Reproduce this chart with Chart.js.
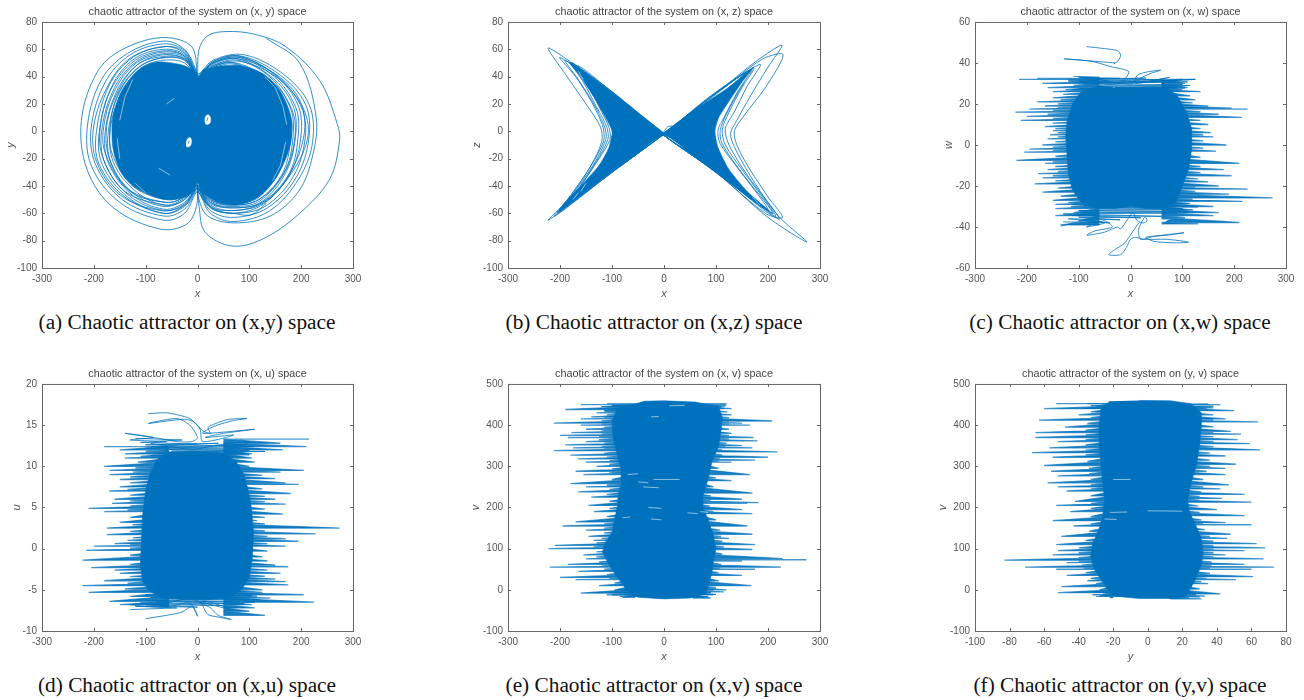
<!DOCTYPE html>
<html>
<head>
<meta charset="utf-8">
<title>Chaotic attractors</title>
<script src="https://cdn.jsdelivr.net/npm/chart.js@4/dist/chart.umd.min.js"></script>
<style>
    html, body { margin: 0; padding: 0; background: #fff; }
    body { position: relative; width: 1304px; height: 700px; overflow: hidden; }
    canvas { position: absolute; }
    .caption {
        position: absolute;
        transform: translateX(-50%);
        white-space: nowrap;
        font: 21.3px "Liberation Serif", serif;
        color: #111;
    }
</style>
</head>
<body>
<script>
// Values. "Core" is the outline of the solid part, "Tip" the ends of
// the spikes sticking out of it, "Traj" the thin trajectory lines that can be followed by eye,
// "Fringe" the back and forth lines along the top and bottom of the solid part,
// "Streak" the pale flecks left inside the solid part.

// (a) x, y
const xyCoreX = [0,-10,-50,-95,-135,-158,-165,-158,-135,-95,-50,-10,0,10,50,95,135,170,182,172,140,95,50,10];
const xyCoreY = [38,45,50,49,36,18,0,-20,-36,-46,-50,-45,-38,-45,-53,-52,-42,-20,0,20,38,47,48,45];
const xyTrajX = [133,197,229,222,195,140,70,20,3,0,
    -2,-14,-72,-149,-194,-224,-213,-162,-72,-21,-2,0,
    3,15,69,130,197,255,274,270,236,170,110,56,20,3,0,
    -3,-25,-65,-135,-185,-212,-205,-150,-65,-25,-3,
    3,25,70,140,195,222,215,165,90,30,3,
    -3,-25,-65,-130,-178,-205,-197,-145,-65,-25,-3,
    3,25,70,135,190,215,208,160,85,30,3,
    -3,-25,-65,-125,-170,-195,-190,-140,-65,-25,-3,
    3,25,70,130,185,208,200,155,85,30,3,
    -3,-25,-65,-122,-165,-190,-183,-135,-65,-25,-3,
    3,25,70,128,180,200,193,150,80,30,3,
    -3,-25,-65,-118,-160,-185,-178,-132,-65,-25,-3,
    3,25,70,125,178,195,188,148,80,30,3,
    -3,-25,-65,-115,-155,-178,-172,-128,-65,-25,-3,
    3,25,70,122,172,190,183,145,78,30,3,
    -3,-25,-65,-112,-150,-172,-167,-125,-65,-25,-3,
    3,25,70,120,170,185,178,142,78,30,3,
    -3,-25,-65,-110,-147,-168,-163,-122,-65,-25,-3,
    3,25,60,120,170,205,198,150,80,30,3,
    -3,-25,-60,-128,-172,-200,-195,-148,-70,-25,-3,
    3,25,65,125,175,212,205,158,85,30,3,
    -3,-25,-60,-120,-168,-188,-182,-140,-60,-25,-3,
    3,25,65,118,168,188,182,145,75,30,3,
    -3,-25,-60,-118,-162,-182,-176,-135,-60,-25,-3,
    3,25,65,115,160,182,176,140,72,30,3,
    -3,-25,-60,-115,-155,-175,-170,-130,-60,-25,-3,
    3,25,65,118,165,180,175,140,70,30,3,
    -3,-25,-60,-110,-150,-168,-165,-125,-60,-25,-3,
    3,30,70,104,133];
const xyTrajY = [68,50,10,-18,-44,-62,-67,-62,-50,-38,
    47,63,68.5,59,43,8,-28,-56,-71.5,-68,-55,-40,
    -55,-74,-84,-78,-60,-35,-7,5,37,62,71,73,70,60,40,
    45,60,66,57,38,5,-25,-52,-65,-60,-45,
    -45,-60,-66,-58,-35,-8,20,42,56,52,42,
    44,59,64,56,36,3,-24,-50,-62,-57,-44,
    -44,-58,-63,-56,-34,-5,20,41,55,51,41,
    42,57,62,54,34,0,-24,-48,-60,-55,-43,
    -43,-56,-60,-55,-33,-4,18,40,54,50,40,
    42,56,60,53,33,-2,-25,-48,-60,-54,-42,
    -43,-55,-60,-53,-30,-2,20,41,55,51,40,
    42,55,58,51,32,0,-24,-47,-58,-53,-42,
    -42,-54,-58,-52,-30,0,19,40,54,50,40,
    41,53,56,49,30,0,-23,-46,-57,-52,-41,
    -42,-53,-56,-52,-29,0,20,39,53,49,40,
    40,52,54,47,29,0,-23,-45,-55,-50,-40,
    -41,-52,-55,-51,-28,0,18,39,52,48,39,
    40,50,52,46,28,2,-22,-43,-54,-49,-40,
    -42,-55,-58,-54,-36,-4,22,42,53,50,40,
    43,58,62,54,34,4,-22,-47,-58,-54,-42,
    -42,-52,-56,-52,-34,-6,16,38,51,48,39,
    42,55,59,52,30,2,-20,-44,-54,-50,-40,
    -41,-51,-54,-50,-30,-4,16,36,50,47,39,
    42,54,57,50,28,0,-18,-42,-52,-48,-40,
    -40,-50,-53,-49,-28,0,14,34,49,46,38,
    41,53,55,49,28,4,-20,-44,-52,-48,-40,
    -40,-50,-54,-50,-30,-2,15,35,50,47,38,
    41,52,54,48,30,6,-16,-40,-50,-47,-39,
    -45,-57,-60,-61,-52.6];
const xyHoleRightX = [14,16,21,25,24,19,15];
const xyHoleRightY = [7,11,12,10,6,5,5.5];
const xyHoleLeftX = [-22,-20,-15,-12,-13,-18,-22];
const xyHoleLeftY = [-9,-6,-4.5,-6,-10,-11.5,-11];
const xyEyeX = [20,18,null,-18,-16];
const xyEyeY = [10,7.5,null,-9,-7];
const xyStreakX = [-150,-140,-125,null,-155,-150,null,-120,-100,null,150,165,172,null,170,160,145,null,130,150,null,-75,-53,null,-60,-45];
const xyStreakY = [8,25,38,null,-5,-20,null,-38,-45,null,32,18,5,null,-8,-25,-36,null,40,32,null,-27,-32,null,20,24];

// (b) x, z
const xzCoreX = [0,60,120,165,172,150,125,105,98,104,125,160,208,190,120,60,0,
    -60,-120,-205,-190,-155,-125,-106,-100,-112,-135,-160,-182,-175,-120,-60];
const xzCoreY = [-1,16,31,45,47,36,22,10,0,-12,-28,-44,-60,-56,-36,-19,-3,
    -19,-35,-60,-52,-38,-25,-12,0,10,25,40,50,50,34,17];
const xzTrajX = [25,8,0,120,180,227,200,165,140,128,140,175,220,275,200,100,0,
    -110,-222,-190,-150,-122,-120,-145,-185,-222,-110,0,
    110,190,229,195,155,135,150,200,228,195,100,0,
    -100,-200,-170,-140,-118,-116,-140,-180,-210,-100,0,
    100,185,160,135,118,125,160,222,190,100,0,
    -100,-190,-165,-135,-114,-112,-135,-175,-200,-100,0,
    90,172,150,125,112,118,150,215,180,90,0,
    -90,-178,-155,-130,-110,-108,-130,-168,-190,-90,0,
    90,168,145,122,108,112,145,210,175,90,0,
    -85,-165,-145,-125,-106,-104,-125,-160,-180,-90,0,
    85,165,140,118,104,108,140,200,170,85,0];
const xzTrajY = [3.5,3.5,-1,34,52,63,47,25,8,-2,-15,-38,-62,-81,-63,-30,-3,
    31,61,42,20,3,-8,-28,-50,-65,-33,-2,
    30,53,56,32,12,-1,-18,-48,-63,-60,-30,-3,
    29,54,40,22,4,-7,-25,-47,-62,-30,-2,
    28,49,33,14,2,-10,-32,-64,-57,-29,-3,
    28,52,38,20,3,-6,-24,-46,-58,-29,-2,
    26,46,32,14,1,-10,-28,-62,-53,-27,-3,
    26,50,36,18,3,-6,-22,-44,-55,-27,-2,
    25,45,30,14,1,-9,-28,-60,-51,-27,-3,
    24,48,34,18,3,-6,-20,-40,-52,-27,-2,
    24,44,28,12,1,-9,-26,-57,-50,-25,-3];
const xzStreakX = [-165,-155,null,-125,-118,null,-105,-100,null,-150,-160,null,-175,-165,null,155,165,null,110,105,null,170,185];
const xzStreakY = [44,38,null,14,8,null,4,-3,null,-38,-44,null,-50,-45,null,35,42,null,8,-2,null,-48,-54];

// (c) x, w
const xwCoreX = [-60,-95,-112,-122,-125,-122,-120,-112,-95,-65,-30,0,30,60,88,100,112,118,118,108,90,70,30,0,-30];
const xwCoreY = [29,26,20,12,4,-6,-14,-22,-28,-31,-31,-30,-31,-31,-28,-20,-12,-2,8,16,24,28,28,28,28];
const xwLeftTipX = [-180,-215,-120,-170,-110,-160,-125,-150,-130,-150,-135,-180,-140,-165,-140,-195,-150,-222,-160,-200,-150,-212,-150,-165,-145,-150,-140,-155,-140,-160,-145,-170,-150,-195,-150,-205,-145,-220,-150,-165,-145,-160,-140,-178,-150,-170,-145,-185,-140,-170,-135,-150,-120,-145,-115,-145,-110,-145,-100,-135];
const xwLeftTipY = [32.5,32,31,30,29,28,27,26,24.7,23,22,21,20,19,18.2,17.5,16.7,16,15,14,13,12,10.7,9,8,7,6,5,4,3,1.5,0,-1,-2,-2.8,-3.5,-5.5,-7.5,-8.2,-9,-10.5,-12,-13,-14,-15,-16,-17.5,-19,-21,-23,-25,-27,-28,-29,-30,-31,-33,-34.5,-37,-39];
const xwRightTipX = [125,105,110,100,135,115,125,120,150,195,226,135,170,215,135,150,135,155,140,160,140,185,140,165,135,210,135,180,135,195,130,150,170,125,226,125,190,274,120,216,115,160,110,170,160,105,210,130,80];
const xwRightTipY = [32,30,28,27,26,24,22,20.5,19,18,17.5,16.2,15,13.5,12,10,8,6,5,4,2,0,-1.5,-3,-6,-9,-10.5,-12,-13.5,-15,-16.5,-18,-20,-20.7,-21.5,-22.7,-24,-25.8,-26.5,-27.5,-28.5,-30,-31.5,-33,-34.5,-35.5,-37.8,-38.5,-36];
const xwTrajX = [-85,-50,-25,-19,-24,-32,-30,-128,-100,-71,-35,-15,-3,-8,-13,-18,-85,-40,-100,-20,5,13,30,58,40,19,10,75,40,100,60,
    null,
    -135,-90,-50,-85,-50,-35,-70,-84,-50,-25,-19,-5,5,13,25,32,28,16,19,45,103,70,30,45,83,112,70,25,10,0,-8,-19,-42,-30,-12,5,16];
const xwTrajY = [48,47,46,43.8,41,39.7,40,42,41.5,40.6,38,37,35.7,33,31.6,30,33,31,31,30,30,34,35.5,36.5,35,32.5,30,33,31,32,30,
    null,
    -39.6,-37,-38,-40,-37,-40,-42,-44,-42.5,-40,-41,-36,-33,-37,-38,-37,-35,-41,-46,-44.6,-42.8,-44,-45,-47,-47.7,-47.4,-46,-46,-45,-46,-50,-53.5,-53.5,-51,-48,-42,-38];
const xwFringeX = [-110,-60,-100,-20,-90,30,-120,60,-80,90,-100,110,-90,125,-60,100,-50,115,-30,90,-100,105,-110,95,
    null,
    -130,-40,-120,-20,-100,20,-110,60,-130,90,-90,110,-100,120,-60,100,-40,130,-90,90,-110,110];
const xwFringeY = [33.5,33,33,32.5,32.3,32.6,31.6,32,31,31.4,30.4,30.8,29.8,32,29.2,29.5,28.6,29,28,28.2,27.4,27.8,27,26.6,
    null,
    -37.5,-38,-36,-36.5,-35.2,-35.5,-34.4,-34.8,-33.6,-33.2,-32.8,-32.6,-32,-31.6,-31.2,-31,-30.4,-30.2,-29.6,-29.4,-28.8,-28.6];

// (d) x, u
const xuCoreX = [-55,-78,-92,-100,-106,-108,-110,-106,-95,-70,-20,20,60,85,100,106,108,104,98,90,75,50,10,-25];
const xuCoreY = [11.8,10.8,9,7,4,1,-2,-4,-5,-6,-6.2,-6.2,-6,-5,-3.5,-1,2,5,7,9,10.5,11.6,11.8,11.8];
const xuLeftTipX = [-180,-150,-100,-140,-110,-140,-115,-180,-120,-170,-125,-170,-130,-150,-130,-150,-135,-170,-130,-160,-130,-165,-130,-210,-135,-180,-130,-150,-125,-175,-130,-175,-125,-135,-160,-130,-200,-130,-215,-130,-222,-130,-205,-160,-150,-130,-180,-135,-222,-140,-210,-130,-170,-150,-100];
const xuLeftTipY = [12.4,12,11.8,11.5,11.2,11,10.5,10,9.8,9.5,9.3,9,8.7,8.4,8,7.5,7.2,7,6.5,6,5.8,5.5,5.2,4.9,4.7,4.5,3.8,3.2,2.9,2.5,2.1,1.7,1.3,1,0.6,0.45,0.3,0.05,-0.2,-0.8,-1.4,-1.9,-2.3,-2.6,-3,-3.4,-3.9,-4.2,-4.5,-4.9,-5.3,-5.8,-6.4,-6.8,-7];
const xuRightTipX = [215,160,210,165,105,105,110,100,205,160,125,150,170,195,125,180,130,150,130,170,130,165,130,115,130,274,130,228,135,170,195,135,170,135,125,135,150,175,135,160,130,150,170,175,125,125,205,115,140,225,105,110,100,130];
const xuRightTipY = [13.3,12.8,12.4,12,11.5,11,10.5,10,9.5,9.3,8.9,8.5,8,7.8,7.25,6.7,6.35,6,5.7,5.4,4.8,4.2,3.8,3.4,3,2.5,2.15,1.8,1.5,1.2,0.9,0.6,0.3,-0.3,-1,-1.5,-2,-2.2,-2.6,-3,-3.35,-3.7,-4,-4.4,-5,-5.3,-5.6,-5.8,-6,-6.5,-6.8,-7.2,-7.6,-8.1];
const xuTrajX = [-95,-60,-35,-15,0,10,25,20,35,60,95,65,30,10,110,50,15,70,10,5,-10,-30,-95,-40,-15,0,-10,-40,-75,-140,-85,-130,-60,-90,-40,-10,30,100,60,10,
    null,
    -100,-60,-30,-10,0,-15,-60,-130,-60,-20,5,20,40,65,40,25,5,70,30,10];
const xuTrajY = [16.4,16.5,16.2,15.8,15,14.3,14,14.7,15.2,15.7,15.8,15.5,14.8,14,14.5,14,13.5,13.8,13,14.5,15.5,15.7,15.2,15.8,15,13.5,13,13,13.4,14,13.5,13.2,13,12.8,12.3,12,12.5,13,12,11.7,
    null,
    -8.5,-8.1,-7.7,-7,-8.2,-6.6,-7.1,-6.8,-6.6,-6.1,-6.5,-8,-8.3,-8.6,-8.1,-7.2,-6.5,-7.5,-6.6,-6.3];
const xuFringeX = [-120,-30,-110,0,-100,40,-90,90,-70,110,-100,120,-60,100,-50,130,-40,90,-80,100,-90,85,
    null,
    -130,-40,-120,0,-100,50,-110,90,-80,110,-100,120,-60,100,-90,105,-100,95];
const xuFringeY = [13.4,13.2,12.9,12.7,12.6,12.8,12.4,12.6,12.3,12.4,12.2,12.1,12.05,11.9,11.85,11.8,11.7,11.6,11.55,11.4,11.3,11.2,
    null,
    -7.4,-7.2,-7,-7.1,-6.8,-6.9,-6.6,-6.7,-6.4,-6.5,-6.3,-6.2,-6.1,-6,-5.9,-5.7,-5.6,-5.4];

// (e) x, v
const xvCoreX = [-60,-90,-100,-98,-90,-82,-82,-88,-90,-95,-100,-115,-118,-105,-95,-80,-70,-50,0,50,80,85,92,95,100,95,85,75,75,85,92,105,110,112,105,60,0,-40];
const xvCoreY = [450,440,410,370,330,290,260,230,200,170,140,110,90,60,40,15,-5,-18,-22,-20,-10,10,40,70,100,130,170,200,230,270,310,350,390,420,445,456,459,458];
const xvLeftTipX = [-160,-110,-190,-115,-130,-110,-140,-115,-160,-120,-212,-120,-160,-115,-150,-120,-178,-120,-200,-125,-185,-125,-150,-115,-190,-120,-175,-115,-212,-115,-180,-110,-165,-105,-150,-105,-130,-100,-170,-105,-155,-100,-180,-110,-150,-105,-165,-110,-140,-105,-145,-105,-135,-110,-170,-115,-195,-115,-150,-115,-145,-120,-135,-130,-210,-135,-222,-130,-155,-130,-150,-125,-185,-120,-220,-115,-165,-110,-200,-105,-170,-95,-125,-90,-160,-90,-110,-80];
const xvLeftTipY = [450,445,438,434,430,425,420,417,415,410,405,402,400,395,390,386,382,378,375,372,370,365,360,356,352,348,345,342,338,332,327,322,318,314,310,305,300,294,288,284,280,268,258,254,250,244,238,232,225,215,205,198,190,178,165,160,155,150,145,138,130,125,120,114,108,104,100,92,85,80,75,68,62,58,55,50,45,37,30,27,25,17,10,1,-8,-10,-12,-18];
const xvRightTipX = [120,118,130,122,130,125,208,125,150,125,165,125,130,125,172,125,180,120,150,118,170,112,218,112,200,108,175,105,130,105,165,100,130,95,170,90,150,90,182,88,160,88,150,95,170,100,160,108,170,110,125,112,175,115,170,112,228,112,274,112,150,110,225,108,175,105,150,105,168,100,120,95,115,95,90];
const xvRightTipY = [452,446,440,432,425,418,410,407,405,402,400,390,380,375,370,366,362,356,350,348,345,340,335,328,322,318,315,312,310,295,280,272,265,250,235,228,220,216,212,211,210,203,195,190,185,170,155,145,135,130,125,118,110,104,98,87,76,74,73,71,70,62,55,52,50,42,35,22,10,5,0,-2,-5,-12,-20];
const xvFringeX = [-110,60,-100,120,-120,110,-100,115,-115,105,null,-85,85,-100,100,-105,90,-95,95];
const xvFringeY = [452,453,448,449,445,444,440,441,436,436,null,-16,-17,-12,-11,-6,-7,0,1];
const xvStreakX = [-20,30,null,-30,-5,null,-25,-5,null,45,65,null,-70,-50,null,-40,-10,null,-50,-30,null,-80,-65,null,70,85,null,-25,-10,null,10,40];
const xvStreakY = [268,268,null,200,198,null,172,170,null,187,185,null,280,282,null,250,248,null,262,260,null,175,177,null,190,188,null,420,421,null,447,448];

// (f) y, v
const yvCoreX = [-22,-27,-28,-28,-27,-26,-25,-26,-28,-32,-33,-31,-27,-24,-20,-5,15,22,25,28,31,32,31,28,24,23,25,28,30,31,31,25,13,-5];
const yvCoreY = [458,440,400,350,300,260,220,180,150,110,80,50,25,5,-15,-21,-21,-15,5,30,60,90,125,155,190,220,260,300,350,400,430,452,459,460];
const yvLeftTipX = [-53,-30,-60,-33,-40,-33,-63,-35,-48,-36,-65,-36,-65,-36,-52,-36,-57,-36,-67,-36,-55,-35,-60,-34,-56,-34,-52,-33,-58,-33,-52,-33,-47,-33,-42,-33,-53,-33,-45,-33,-55,-33,-43,-34,-50,-36,-53,-40,-52,-40,-55,-40,-83,-40,-47,-38,-71,-37,-53,-36,-47,-33,-35,-30,-50,-28,-52,-26,-28,-22];
const yvLeftTipY = [452,446,440,432,425,418,412,404,395,388,382,376,370,365,360,352,345,339,333,328,322,312,302,295,288,282,277,268,260,255,250,245,240,228,215,210,205,198,190,178,168,160,155,142,130,120,110,102,95,90,85,78,72,69,66,60,55,52,50,42,35,28,22,15,8,0,-7,-11,-15,-19];
const yvRightTipX = [42,38,50,38,45,38,64,38,48,38,54,38,52,38,59,38,65,36,45,36,51,36,45,34,45,32,47,32,42,31,56,30,43,30,60,29,40,30,56,31,45,32,60,33,48,36,46,38,63,38,68,38,56,38,45,38,67,37,56,37,73,36,60,36,61,34,51,31,35,30,42,28,33,24,31];
const yvRightTipY = [450,442,435,425,415,412,408,396,385,382,378,372,365,360,355,348,340,332,325,315,305,300,295,288,280,268,255,250,245,238,232,227,222,218,213,204,195,188,180,170,163,160,158,146,135,130,125,118,112,107,102,98,95,90,85,80,75,68,62,58,55,52,50,40,32,28,25,20,15,2,-10,-13,-15,-19,-22];
const yvFringeX = [-35,35,-33,38,-36,34,null,-30,30,-32,28,-30,26];
const yvFringeY = [452,451,447,446,441,440,null,-16,-17,-12,-10,-5,-6];
const yvStreakX = [-20,-10,null,0,20,null,-22,-12,null,-25,-18];
const yvStreakY = [268,268,null,192,191,null,188,189,null,172,171];

const blue = '#0072BD';
const tickGrey = '#555555';

function pts(xs, ys) {
    return xs.map((x, i) => ({ x: x, y: ys[i] }));
}

// spikes are long thin teeth: each tip is joined back to a line hidden inside the solid part
function spikePts(tipX, tipY, hiddenX) {
    const out = [{ x: hiddenX, y: tipY[0] }];
    tipX.forEach((x, i) => {
        out.push({ x: x, y: tipY[i] });
        out.push({ x: hiddenX, y: tipY[i] });
    });
    return out;
}

function trajSet(xs, ys, tension) {
    return { data: pts(xs, ys), borderColor: blue, borderWidth: 0.8, tension: tension, pointRadius: 0, showLine: true, fill: false };
}
function coreSet(xs, ys, tension) {
    return { data: pts(xs, ys), borderColor: blue, backgroundColor: blue, borderWidth: 0.6, tension: tension, pointRadius: 0, showLine: true, fill: 'shape' };
}
function spikeSet(tipX, tipY, hiddenX) {
    return { data: spikePts(tipX, tipY, hiddenX), borderColor: 'rgba(0,114,189,0.72)', backgroundColor: 'rgba(0,114,189,0.9)', borderWidth: 1.3, borderJoinStyle: 'bevel', tension: 0, pointRadius: 0, showLine: true, fill: 'shape' };
}
function holeSet(xs, ys) {
    return { data: pts(xs, ys), borderColor: '#fff', backgroundColor: '#fff', borderWidth: 0.5, tension: 0.4, pointRadius: 0, showLine: true, fill: 'shape' };
}
function streakSet(xs, ys) {
    return { data: pts(xs, ys), borderColor: 'rgba(255,255,255,0.6)', borderWidth: 0.9, tension: 0, pointRadius: 0, showLine: true, fill: false };
}

// MATLAB style box with inward ticks
const boxPlugin = {
    id: 'box',
    afterDraw(chart) {
        const { ctx, chartArea: a, scales } = chart;
        ctx.save();
        ctx.strokeStyle = '#666';
        ctx.lineWidth = 1;
        ctx.strokeRect(a.left + 0.5, a.top + 0.5, a.right - a.left, a.bottom - a.top);
        ctx.beginPath();
        scales.x.ticks.forEach(t => {
            const p = Math.round(scales.x.getPixelForValue(t.value)) + 0.5;
            ctx.moveTo(p, a.bottom); ctx.lineTo(p, a.bottom - 3);
            ctx.moveTo(p, a.top); ctx.lineTo(p, a.top + 3);
        });
        scales.y.ticks.forEach(t => {
            const p = Math.round(scales.y.getPixelForValue(t.value)) + 0.5;
            ctx.moveTo(a.left, p); ctx.lineTo(a.left + 3, p);
            ctx.moveTo(a.right, p); ctx.lineTo(a.right - 3, p);
        });
        ctx.stroke();
        ctx.restore();
    }
};

function addPanel(p) {
    const canvas = document.createElement('canvas');
    canvas.style.left = (p.left - 40) + 'px';
    canvas.style.top = (p.top - 20) + 'px';
    canvas.width = p.width + 60;
    canvas.height = p.height + 53;
    document.body.appendChild(canvas);

    const cap = document.createElement('div');
    cap.className = 'caption';
    cap.textContent = p.caption;
    cap.style.left = p.capX + 'px';
    cap.style.top = p.capY + 'px';
    document.body.appendChild(cap);

    const tickFont = { family: 'Liberation Sans', size: 10 };
    const labelFont = { family: 'Liberation Sans', size: 11, style: 'italic' };
    new Chart(canvas, {
        type: 'scatter',
        data: { datasets: p.sets },
        plugins: [boxPlugin],
        options: {
            responsive: false,
            animation: false,
            events: [],
            layout: { padding: { right: 20 } },
            plugins: {
                legend: { display: false },
                tooltip: { enabled: false },
                title: {
                    display: true,
                    text: p.title,
                    fullSize: false,
                    color: '#444',
                    font: { family: 'Liberation Sans', size: 10.8, weight: 'normal', lineHeight: 1.2 },
                    padding: { top: 4, bottom: 3 }
                }
            },
            scales: {
                x: {
                    min: p.xRange[0], max: p.xRange[1],
                    afterFit: s => { s.height = 33; },
                    grid: { display: false, drawTicks: false },
                    border: { display: false },
                    ticks: { stepSize: p.xRange[2], color: tickGrey, font: tickFont, padding: 5, maxRotation: 0, autoSkip: false },
                    title: { display: true, text: p.xLabel, color: tickGrey, padding: { top: 0, bottom: 0 }, font: labelFont }
                },
                y: {
                    min: p.yRange[0], max: p.yRange[1],
                    afterFit: s => { s.width = 40; },
                    grid: { display: false, drawTicks: false },
                    border: { display: false },
                    ticks: { stepSize: p.yRange[2], color: tickGrey, font: tickFont, padding: 5, autoSkip: false },
                    title: { display: true, text: p.yLabel, color: tickGrey, padding: { top: p.yLabelPad, bottom: 0 }, font: labelFont }
                }
            }
        }
    });
}

// first dataset is painted on top, so the solid part goes last
addPanel({ left: 42, top: 22, width: 311, height: 246, xRange: [-300,300,100], yRange: [-100,80,20],
    title: 'chaotic attractor of the system on (x, y) space', xLabel: 'x', yLabel: 'y', yLabelPad: 2,
    caption: '(a) Chaotic attractor on (x,y) space', capX: 187, capY: 310,
    sets: [ trajSet(xyEyeX, xyEyeY, 0), holeSet(xyHoleRightX, xyHoleRightY), holeSet(xyHoleLeftX, xyHoleLeftY),
        streakSet(xyStreakX, xyStreakY), trajSet(xyTrajX, xyTrajY, 0.35), coreSet(xyCoreX, xyCoreY, 0.4) ] });
addPanel({ left: 508, top: 22, width: 312, height: 246, xRange: [-300,300,100], yRange: [-100,80,20],
    title: 'chaotic attractor of the system on (x, z) space', xLabel: 'x', yLabel: 'z', yLabelPad: 2.7,
    caption: '(b) Chaotic attractor on (x,z) space', capX: 654, capY: 310,
    sets: [ streakSet(xzStreakX, xzStreakY), trajSet(xzTrajX, xzTrajY, 0.3), coreSet(xzCoreX, xzCoreY, 0.2) ] });
addPanel({ left: 975, top: 22, width: 311, height: 246, xRange: [-300,300,100], yRange: [-60,60,20],
    title: 'chaotic attractor of the system on (x, w) space', xLabel: 'x', yLabel: 'w', yLabelPad: 7,
    caption: '(c) Chaotic attractor on (x,w) space', capX: 1120, capY: 310,
    sets: [ trajSet(xwTrajX, xwTrajY, 0.25), trajSet(xwFringeX, xwFringeY, 0), coreSet(xwCoreX, xwCoreY, 0),
        spikeSet(xwLeftTipX, xwLeftTipY, -60), spikeSet(xwRightTipX, xwRightTipY, 60) ] });
addPanel({ left: 42, top: 384, width: 311, height: 247, xRange: [-300,300,100], yRange: [-10,20,5],
    title: 'chaotic attractor of the system on (x, u) space', xLabel: 'x', yLabel: 'u', yLabelPad: 8,
    caption: '(d) Chaotic attractor on (x,u) space', capX: 187, capY: 673,
    sets: [ trajSet(xuTrajX, xuTrajY, 0.25), trajSet(xuFringeX, xuFringeY, 0), coreSet(xuCoreX, xuCoreY, 0),
        spikeSet(xuLeftTipX, xuLeftTipY, -55), spikeSet(xuRightTipX, xuRightTipY, 50) ] });
addPanel({ left: 508, top: 384, width: 312, height: 247, xRange: [-300,300,100], yRange: [-100,500,100],
    title: 'chaotic attractor of the system on (x, v) space', xLabel: 'x', yLabel: 'v', yLabelPad: 1.7,
    caption: '(e) Chaotic attractor on (x,v) space', capX: 654, capY: 673,
    sets: [ streakSet(xvStreakX, xvStreakY), trajSet(xvFringeX, xvFringeY, 0), coreSet(xvCoreX, xvCoreY, 0),
        spikeSet(xvLeftTipX, xvLeftTipY, -55), spikeSet(xvRightTipX, xvRightTipY, 55) ] });
addPanel({ left: 975, top: 384, width: 311, height: 247, xRange: [-100,80,20], yRange: [-100,500,100],
    title: 'chaotic attractor of the system on (y, v) space', xLabel: 'y', yLabel: 'v', yLabelPad: 1,
    caption: '(f) Chaotic attractor on (y,v) space', capX: 1120, capY: 673,
    sets: [ streakSet(yvStreakX, yvStreakY), trajSet(yvFringeX, yvFringeY, 0), coreSet(yvCoreX, yvCoreY, 0),
        spikeSet(yvLeftTipX, yvLeftTipY, -20), spikeSet(yvRightTipX, yvRightTipY, 13) ] });
</script>
</body>
</html>
